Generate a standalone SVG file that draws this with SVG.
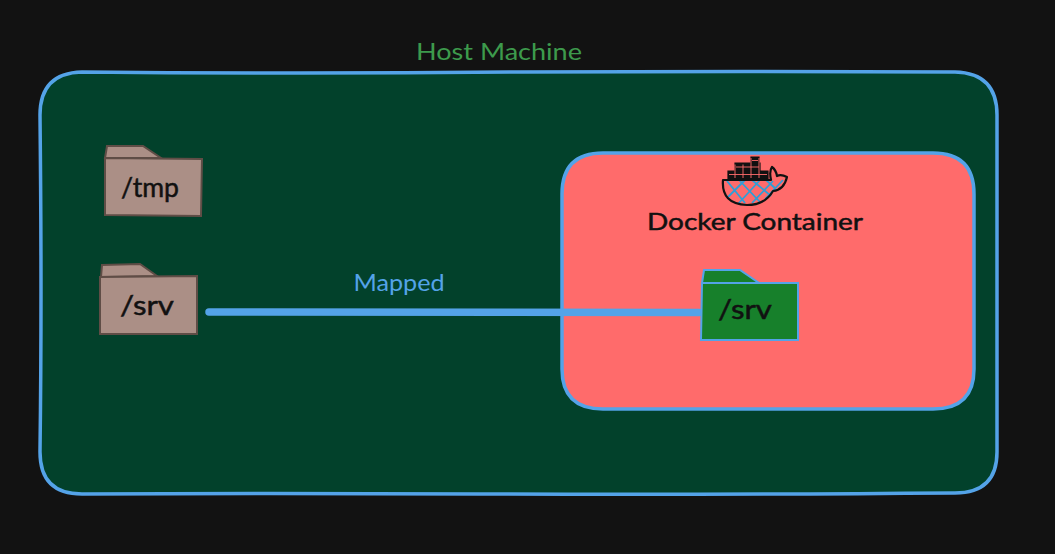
<svg xmlns="http://www.w3.org/2000/svg" width="1055" height="554" viewBox="0 0 1055 554">
<style>
text{font-family:"Lato","Noto Sans",sans-serif;font-size:24px;fill:#1e1e1e;text-anchor:middle}
.host{fill:#3d9a4c}
.map{fill:#54a3e8}
.dark{fill:#111;stroke:#111;stroke-width:.5px}
.folder{font-size:27px}
.brown path{fill:#ab8f86;stroke:#5f4d46;stroke-width:2}
.green path{fill:#17802b;stroke:#54a3e8;stroke-width:2}
.box{stroke:#54a3e8;stroke-width:3.5}
.hatch{stroke:#2d9fd8;stroke-width:1.8;fill:none}
.blk{fill:none;stroke:#111;stroke-width:2.2;stroke-linejoin:round;stroke-linecap:round}
</style>
<rect width="1055" height="554" fill="#121212"/>
<g id="host-machine">
<path class="box" fill="#02412b" d="M82 72Q300 74 520 72Q750 71 955 72Q997 73 997 115L997 452Q997 493 955 493Q700 495 480 494Q260 493 82 494Q40 494 40 452Q42 300 40 115Q40 73 82 72Z"/>
<text class="host" x="499" y="60" textLength="166" lengthAdjust="spacingAndGlyphs">Host Machine</text>
</g>
<g id="docker-container">
<path class="box" fill="#ff6b6b" d="M603 153L933 153Q974 153 974 194L974 369Q974 409 933 409L603 409Q562 409 562 369L562 194Q562 153 603 153Z"/>
<text class="dark" x="755" y="230" textLength="216" lengthAdjust="spacingAndGlyphs">Docker Container</text>
</g>
<g id="docker-logo">
<path class="hatch" d="M727 181L745 203M739 180L760 202M752 180L771 196M766 180L776 189M745 180L728 197M760 180L738 204M773 181L752 203M783 180L765 199"/>
<path class="blk" d="M723 180Q721 204 747 205Q765 205 773 191Q784 190 787 177Q781 174 777 176Q776 170 772 167Q769 171 771 180L723 180"/>
<path d="M728 171H768V179H728ZM735 163H760V171H735ZM751 157H759V163H751Z" fill="#111" stroke="#111" stroke-width="1.2"/>
<path d="M735 164.500V178M743 164.500V178M751 158V178M759 158V178M729 174.500H767M736 167H759M752 160.500H758" fill="none" stroke="#ff6b6b" stroke-width=".9"/>
</g>
<g id="tmp-folder" class="brown">
<path d="M105 158L107 146L143 146L161 158Z"/>
<path d="M105 158L202 159L201 216L105 215Z"/>
<text x="150" y="197" class="dark folder" textLength="58" lengthAdjust="spacingAndGlyphs">/tmp</text>
</g>
<g id="host-srv-folder" class="brown">
<path d="M101 277L102 265L140 264L157 276Z"/>
<path d="M100 277L197 276L197 334L100 334Z"/>
<text x="147" y="315" class="dark folder" textLength="54" lengthAdjust="spacingAndGlyphs">/srv</text>
</g>
<g id="connectors">
<path d="M209 312L699 312.500" fill="none" stroke="#54a3e8" stroke-width="7.500" stroke-linecap="round"/>
<text class="map" x="399" y="291" textLength="91" lengthAdjust="spacingAndGlyphs">Mapped</text>
</g>
<g id="container-srv-folder" class="green">
<path d="M702 283L704 270L740 270L759 283Z"/>
<path d="M702 283L798 283L798 340L701 340Z"/>
<text x="745" y="319" class="dark folder" textLength="54" lengthAdjust="spacingAndGlyphs">/srv</text>
</g>
</svg>
